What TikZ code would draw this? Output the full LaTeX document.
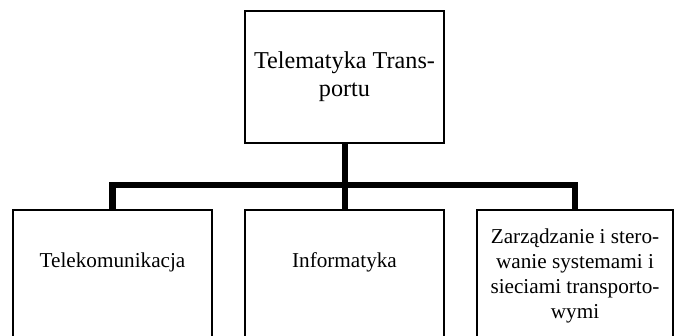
\documentclass[tikz,border=0pt]{standalone}
\usepackage{fontspec}
\setmainfont{Liberation Serif}
\usepackage{tikz}
\usetikzlibrary{positioning}

\begin{document}
\begin{tikzpicture}[
  x=0.566pt, y=-0.566pt,
  box/.style={draw, line width=0.9pt, minimum width=112.5pt, inner sep=0pt},
  txt/.style={align=center, font=\fontsize{12}{14.2}\selectfont},
  bus/.style={line width=3.4pt}
]
\clip (0,0) rectangle (678,336);

\node[box, minimum height=74.7pt] (root) at (344.5,77) {};
\node[txt, font=\fontsize{13.7}{15.8}\selectfont] (roottxt) at (344.5,77) {Telematyka Trans-\\portu};

\node[box, anchor=north, minimum height=80pt] (tele) at (112.5,209) {};
\node[box, anchor=north, minimum height=80pt] (info) at (344.5,209) {};
\node[box, anchor=north, minimum width=110.9pt, minimum height=80pt] (zarz) at (575,209) {};

\node[txt] (teletxt) at (112.5,262) {Telekomunikacja};
\node[txt] (infotxt) at (344.5,262) {Informatyka};
\node[txt] (zarztxt) at (575,276) {Zarządzanie i stero-\\wanie systemami i\\sieciami transporto-\\wymi};

\draw[bus] (root.south) -- (info.north);
\draw[bus] (tele.north) |- (info.north |- 0,185) -| (zarz.north);
\end{tikzpicture}
\end{document}
